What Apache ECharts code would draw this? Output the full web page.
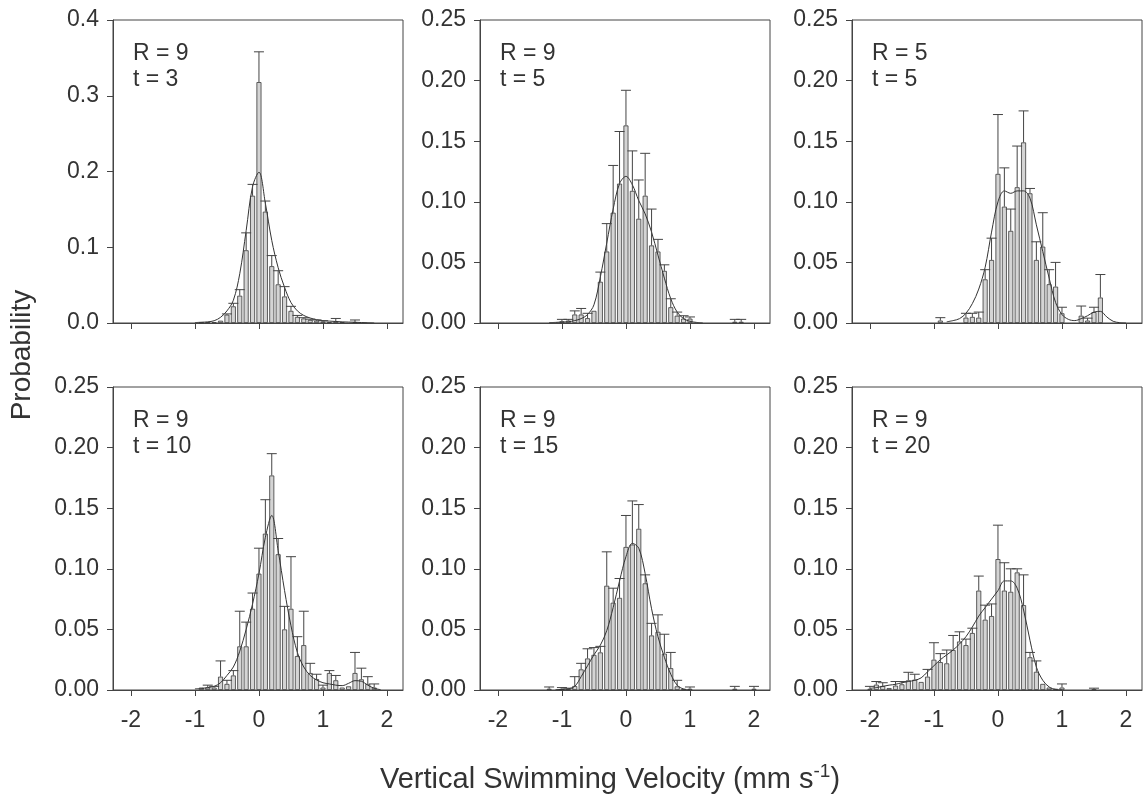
<!DOCTYPE html>
<html>
<head>
<meta charset="utf-8">
<script src="https://cdn.jsdelivr.net/npm/echarts@6/dist/echarts.min.js"></script>
<style>
html,body{margin:0;padding:0;background:#fff;}
#chart{width:1144px;height:798px;}
</style>
</head>
<body>
<div id="chart"></div>
<script>
// Bin centres (mm s-1)
const bins = [-2.0,-1.9,-1.8,-1.7,-1.6,-1.5,-1.4,-1.3,-1.2,-1.1,-1.0,-0.9,-0.8,-0.7,-0.6,-0.5,-0.4,-0.3,-0.2,-0.1,0.0,0.1,0.2,0.3,0.4,0.5,0.6,0.7,0.8,0.9,1.0,1.1,1.2,1.3,1.4,1.5,1.6,1.7,1.8,1.9,2.0];
const xTicks = [-2,-1,0,1,2];

const panelR = ['R = 9','R = 9','R = 5','R = 9','R = 9','R = 9'];
const panelT = ['t = 3','t = 5','t = 5','t = 10','t = 15','t = 20'];
const yMaxes = [0.4,0.25,0.25,0.25,0.25,0.25];
const yIntervals = [0.1,0.05,0.05,0.05,0.05,0.05];

// Panel 1: R=9, t=3
const p1Prob = [null,null,null,null,null,null,null,null,null,null,null,
  0.0005,0.001,0.001,0.003,0.011,0.022,0.036,0.096,0.168,
  0.318,0.147,0.075,0.051,0.035,0.016,0.008,0.006,0.004,0.003,
  0.002,0.001,0.002,0.001,null,0.001,null,null,null,null,null];
const p1Err = [null,null,null,null,null,null,null,null,null,null,null,
  null,null,null,null,0.012,0.026,0.044,0.119,0.183,
  0.358,0.161,0.089,0.069,0.048,0.022,0.010,0.007,0.005,0.004,
  0.003,null,0.006,null,null,0.004,null,null,null,null,null];
const p1Curve = [null,null,null,null,null,null,null,null,null,null,
  0.0005,0.001,0.0015,0.003,0.0075,0.016,0.030,0.065,0.122,0.180,
  0.199,0.158,0.109,0.073,0.047,0.027,0.016,0.010,0.0066,0.0044,
  0.003,0.0025,0.002,0.0015,0.0012,0.001,0.0006,0.0003,0,null,null];

// Panel 2: R=9, t=5
const p2Prob = [null,null,null,null,null,null,null,null,null,null,
  0.0014,0.002,0.007,0.007,0.004,0.010,0.034,0.059,0.091,0.115,
  0.163,0.109,0.086,0.105,0.064,0.059,0.043,0.013,0.006,0.0036,
  0.0036,null,null,null,null,null,null,0.001,0.001,null,null];
const p2Err = [null,null,null,null,null,null,null,null,null,null,
  0.003,0.003,0.010,0.012,0.008,null,0.042,0.082,0.130,0.158,
  0.192,0.142,0.118,0.140,0.094,0.069,0.048,0.020,0.009,0.006,
  0.005,null,null,null,null,null,null,0.003,0.003,null,null];
const p2Curve = [null,null,null,null,null,null,null,null,0.0003,0.0005,
  0.0008,0.001,0.002,0.0036,0.007,0.015,0.038,0.066,0.094,0.115,
  0.121,0.114,0.101,0.090,0.075,0.056,0.037,0.020,0.009,0.0036,
  0.0014,0.0005,0,null,null,null,null,null,null,null,null];

// Panel 3: R=5, t=5
const p3Prob = [null,null,null,null,null,null,null,null,null,null,null,
  0.002,null,null,null,0.0044,0.005,0.0044,0.036,0.052,
  0.123,0.096,0.076,0.112,0.149,0.107,0.052,0.063,0.032,0.030,
  0.008,null,null,0.006,0.002,0.009,0.021,null,null,null,null];
const p3Err = [null,null,null,null,null,null,null,null,null,null,null,
  0.0044,null,null,null,0.008,0.008,0.009,0.044,0.070,
  0.172,0.128,0.094,0.146,0.175,0.111,0.067,0.091,0.044,0.050,
  0.013,null,null,0.014,0.004,0.013,0.040,null,null,null,null];
const p3Curve = [null,null,null,null,null,null,null,null,null,null,null,null,
  0.001,0.002,0.0036,0.008,0.016,0.028,0.046,0.075,
  0.100,0.109,0.107,0.109,0.109,0.103,0.081,0.059,0.037,0.017,
  0.007,0.003,0.002,0.0036,0.006,0.009,0.0096,0.005,0.0014,0.0003,0];

// Panel 4: R=9, t=10
const p4Prob = [null,null,null,null,null,null,null,null,null,null,null,
  0.002,0.002,0.002,0.011,0.005,0.012,0.036,0.036,0.067,
  0.096,0.129,0.177,0.112,0.050,0.067,0.028,0.037,0.014,0.009,
  0.002,0.014,0.008,0.002,0.003,0.014,0.0088,0.005,0.002,null,null];
const p4Err = [null,null,null,null,null,null,null,null,null,null,null,
  null,0.004,0.003,0.024,0.008,0.016,0.065,0.056,0.080,
  0.117,0.157,0.195,0.125,0.069,0.110,0.044,0.065,0.022,0.013,
  0.004,0.016,0.012,null,null,0.031,0.018,0.011,0.005,null,null];
const p4Curve = [null,null,null,null,null,null,null,null,null,null,
  0.001,0.0012,0.002,0.003,0.006,0.012,0.019,0.032,0.050,0.071,
  0.096,0.126,0.144,0.115,0.082,0.053,0.031,0.019,0.012,0.0083,
  0.006,0.005,0.004,0.0036,0.0055,0.0077,0.0072,0.004,0.0014,0.0003,null];

// Panel 5: R=9, t=15
const p5Prob = [null,null,null,null,null,null,null,null,0.001,null,
  0.001,0.001,0.0033,0.017,0.026,0.029,0.031,0.086,0.072,0.076,
  0.118,0.120,0.133,0.088,0.045,0.048,0.030,0.018,0.003,0.001,
  0.001,null,null,null,null,null,null,0.001,null,null,0.001];
const p5Err = [null,null,null,null,null,null,null,null,0.0025,null,
  0.002,0.0015,0.011,0.022,0.034,0.035,0.036,0.114,0.084,0.092,
  0.144,0.156,0.153,0.095,0.055,0.062,0.046,0.031,0.008,null,
  0.0025,null,null,null,null,null,null,0.003,null,null,0.003];
const p5Curve = [null,null,null,null,null,null,null,null,null,0.0003,
  0.0005,0.001,0.003,0.011,0.020,0.029,0.037,0.049,0.068,0.090,
  0.110,0.121,0.117,0.096,0.067,0.044,0.027,0.013,0.004,0.0008,
  0,null,null,null,null,null,null,null,null,null,null];

// Panel 6: R=9, t=20
const p6Prob = [0.001,0.0044,0.0033,0.0016,0.0036,0.0047,0.008,0.0085,0.0066,0.011,
  0.025,0.023,0.022,0.033,0.040,0.037,0.047,0.082,0.058,0.061,
  0.108,0.082,0.081,0.097,0.070,0.027,0.015,0.005,0.002,0.001,
  0.002,null,null,null,null,0.0005,null,null,null,null,null];
const p6Err = [0.003,0.007,0.006,null,0.007,0.007,0.0146,0.013,null,0.017,
  0.039,0.030,0.033,0.045,0.048,0.042,0.051,0.094,0.070,0.071,
  0.136,0.105,0.100,0.100,0.095,0.031,0.024,null,null,null,
  0.005,null,null,null,null,0.0015,null,null,null,null,null];
const p6Curve = [0.0014,0.002,0.003,0.004,0.0047,0.006,0.007,0.008,0.010,0.015,
  0.020,0.025,0.029,0.033,0.038,0.044,0.052,0.061,0.068,0.075,
  0.082,0.090,0.090,0.084,0.066,0.041,0.019,0.008,0.0025,0.0005,
  0,null,null,null,null,null,null,null,null,null,null];

const probs = [p1Prob,p2Prob,p3Prob,p4Prob,p5Prob,p6Prob];
const errs = [p1Err,p2Err,p3Err,p4Err,p5Err,p6Err];
const curves = [p1Curve,p2Curve,p3Curve,p4Curve,p5Curve,p6Curve];

// ---- layout ----
const FONT = '"Liberation Sans", Arial, sans-serif';
const TXT = '#333333';
const LINE = '#444444';
const lefts = [113, 480, 852];
const tops = [20, 387];
const W = 290, H = 303;

const grids = [], xAxes = [], yAxes = [], series = [], graphics = [];
for (let i = 0; i < 6; i++) {
  const col = i % 3, row = Math.floor(i / 3);
  grids.push({left: lefts[col], top: tops[row], width: W, height: H, show: true,
    borderColor: LINE, borderWidth: 1, backgroundColor: 'transparent', containLabel: false});
  xAxes.push({type: 'value', gridIndex: i, min: -2.28, max: 2.25,
    axisLine: {show: true, onZero: false, lineStyle: {color: LINE, width: 1}},
    axisTick: {show: true, length: 6, lineStyle: {color: LINE}, customValues: xTicks},
    axisLabel: {show: row === 1, customValues: xTicks, margin: 19, color: TXT, fontSize: 23, fontFamily: FONT},
    splitLine: {show: false}});
  const dec = i === 0 ? 1 : 2;
  yAxes.push({type: 'value', gridIndex: i, min: 0, max: yMaxes[i], interval: yIntervals[i],
    axisLine: {show: true, onZero: false, lineStyle: {color: LINE, width: 1}},
    axisTick: {show: true, length: 6, lineStyle: {color: LINE}},
    axisLabel: {margin: 14, color: TXT, fontSize: 23, fontFamily: FONT,
      formatter: v => v.toFixed(dec)},
    splitLine: {show: false}});

  const barData = [], errData = [], curveData = [];
  for (let j = 0; j < bins.length; j++) {
    if (probs[i][j] !== null) barData.push([bins[j], probs[i][j]]);
    if (errs[i][j] !== null && probs[i][j] !== null) errData.push([bins[j], probs[i][j], errs[i][j]]);
    if (curves[i][j] !== null) curveData.push([bins[j], curves[i][j]]);
  }
  series.push({type: 'bar', xAxisIndex: i, yAxisIndex: i, data: barData, barWidth: 5,
    itemStyle: {color: '#d4d4d4', borderColor: '#3a3a3a', borderWidth: 0.8},
    silent: true, z: 2, animation: false});
  series.push({type: 'line', xAxisIndex: i, yAxisIndex: i, data: curveData, smooth: 0.35,
    symbol: 'none', lineStyle: {color: '#333', width: 1}, z: 3, animation: false, silent: true});
  series.push({type: 'custom', xAxisIndex: i, yAxisIndex: i, data: errData, z: 4, animation: false, silent: true,
    encode: {x: 0, y: 2},
    renderItem: function (params, api) {
      const x = api.value(0), v = api.value(1), e = api.value(2);
      const p0 = api.coord([x, v]);
      const p1 = api.coord([x, e]);
      const st = {stroke: '#444', lineWidth: 1};
      return {type: 'group', children: [
        {type: 'line', shape: {x1: p0[0], y1: p0[1], x2: p1[0], y2: p1[1]}, style: st},
        {type: 'line', shape: {x1: p1[0] - 5, y1: p1[1], x2: p1[0] + 5, y2: p1[1]}, style: st}
      ]};
    }});

  graphics.push({type: 'text', left: lefts[col] + 20, top: tops[row] + 21,
    style: {text: panelR[i] + '\n' + panelT[i], fill: TXT, fontSize: 23, fontFamily: FONT, lineHeight: 26}});
}

graphics.push({type: 'text', x: 22, y: 355, rotation: Math.PI / 2,
  style: {text: 'Probability', fill: TXT, fontSize: 28, fontFamily: FONT,
    textAlign: 'center', textVerticalAlign: 'middle'}});
graphics.push({type: 'text', x: 380, y: 780,
  style: {text: '{a|Vertical Swimming Velocity (mm s}{b|-1}{a|)}', fill: TXT,
    textAlign: 'left', textVerticalAlign: 'middle',
    rich: {a: {fontSize: 29, fontFamily: FONT, fill: TXT, lineHeight: 35},
           b: {fontSize: 19, fontFamily: FONT, fill: TXT, verticalAlign: 'top', lineHeight: 20}}}});

const chart = echarts.init(document.getElementById('chart'), null, {renderer: 'canvas'});
chart.setOption({
  animation: false,
  backgroundColor: '#ffffff',
  grid: grids, xAxis: xAxes, yAxis: yAxes, series: series, graphic: graphics
});
</script>
</body>
</html>
